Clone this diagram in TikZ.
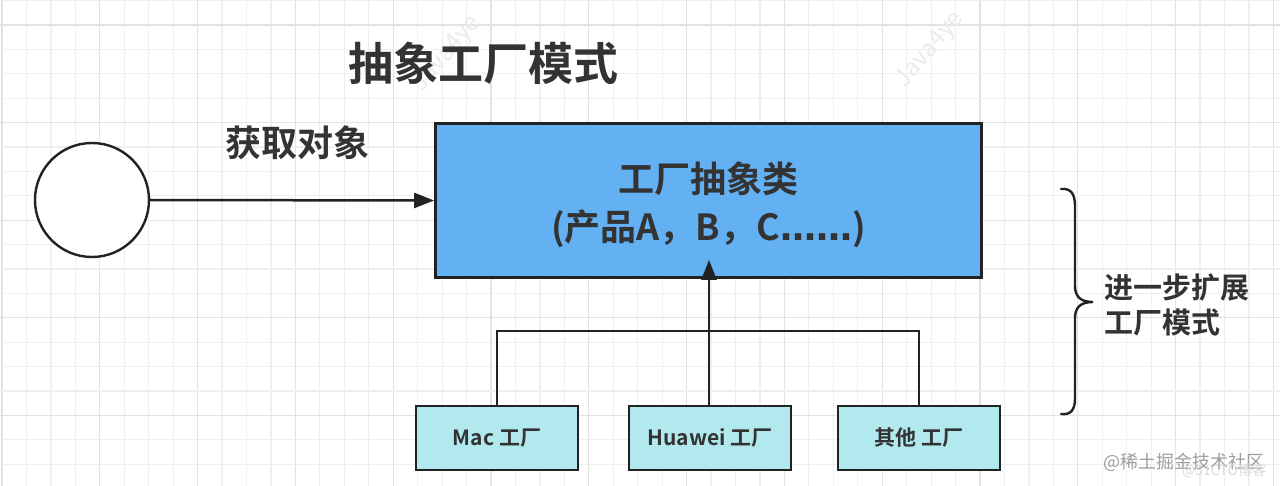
\documentclass[tikz,border=0pt]{standalone}
\usepackage{fontspec}
\setmainfont{Noto Sans CJK SC}[BoldFont={* Bold}]
\newfontfamily\latinfont{DejaVu Sans}
\usetikzlibrary{arrows.meta}
\definecolor{txt}{HTML}{333333}
\definecolor{mainfill}{RGB}{99,176,243}
\definecolor{subfill}{RGB}{178,233,238}
\definecolor{edge}{HTML}{222222}
\definecolor{gridminor}{HTML}{EFEFEF}
\definecolor{gridmajor}{HTML}{E2E2E2}
\tikzset{
  fs/.style={font=\fontsize{#1}{#1}\selectfont\bfseries},
  circ/.style={circle, draw=edge, line width=2.4pt, fill=white, minimum size=114pt, inner sep=0pt},
  mainbox/.style={rectangle, draw=edge, line width=2.8pt, fill=mainfill, minimum width=546pt, minimum height=154pt, inner sep=0pt},
  subbox/.style={rectangle, draw=edge, line width=2.8pt, fill=subfill, minimum width=162pt, minimum height=64pt, inner sep=0pt, text=txt, font=\fontsize{21}{25}\selectfont\bfseries},
  conn/.style={draw=edge, line width=2.5pt},
  arr/.style={conn, -{Triangle[length=20pt,width=15pt]}},
  label/.style={text=txt, inner sep=0pt},
  wm/.style={inner sep=0pt}
}
\begin{document}
\begin{tikzpicture}[x=1pt,y=-1pt]
\useasboundingbox (0,0) rectangle (1280,486);
\fill[white] (0,0) rectangle (1280,486);
% grid
\foreach \i in {0,...,52}{
  \pgfmathtruncatemacro{\r}{mod(\i,4)}
  \ifnum\r=0 \def\gc{gridmajor}\else\def\gc{gridminor}\fi
  \draw[\gc, line width=1.2pt] ({2+24.45*\i},0) -- ({2+24.45*\i},486);
}
\foreach \j in {0,...,20}{
  \pgfmathtruncatemacro{\r}{mod(\j,4)}
  \ifnum\r=1 \def\gc{gridmajor}\else\def\gc{gridminor}\fi
  \draw[\gc, line width=1.2pt] (0,{0.6+24.4*\j}) -- (1280,{0.6+24.4*\j});
}
% watermarks
\node[wm, text=black!8, rotate=50, font=\fontsize{24}{28}\selectfont] (wm1) at (447,54) {Java4ye};
\node[wm, text=black!8, rotate=50, font=\fontsize{24}{28}\selectfont] (wm2) at (930,50) {Java4ye};

% title and labels
\node[label, fs=45] (title) at (483,63) {抽象工厂模式};
\node[label, fs=36] (get) at (297,143) {获取对象};

% nodes
\node[circ] (client) at (92,200) {};
\node[mainbox] (abs) at (708.5,200.5) {};
\node[label, align=center] (abstext) at (708.5,205)
  {\fontsize{36}{46}\selectfont\bfseries 工厂抽象类\\[13pt]
   \fontsize{36}{46}\selectfont\bfseries (产品A，B，C{\latinfont\bfseries ……})};
\node[subbox] (mac) at (497,438) {Mac 工厂};
\node[subbox] (hw) at (710,438) {Huawei 工厂};
\node[subbox] (oth) at (919,438) {其他 工厂};

% connectors
\draw[arr] (client.east) -- (abs.west);
\coordinate (j) at (709,331);
\draw[conn] (mac.north) |- (j) -| (oth.north);
\draw[arr, shorten >=-19pt] (hw.north -| j) -- (abs.south -| j);

% brace
\draw[edge, line width=2.4pt, line cap=round]
  (1061,189) .. controls (1071,188) and (1075,194) .. (1075,206)
  -- (1075,286) .. controls (1075,296) and (1080,302) .. (1093,302)
  .. controls (1080,302) and (1075,308) .. (1075,318)
  -- (1075,398) .. controls (1075,410) and (1071,415) .. (1061,414);
\node[label, anchor=west, align=left, font=\fontsize{29}{35}\selectfont\bfseries] (ext) at (1104,305) {进一步扩展\\工厂模式};

% bottom-right watermark
\node[wm, text=black!38, anchor=west, font=\fontsize{18}{22}\selectfont] (wm3) at (1103,462) {@稀土掘金技术社区};
\node[wm, text=black!15, anchor=west, font=\fontsize{14}{16}\selectfont] (wm4) at (1182,471) {@51CTO博客};
\end{tikzpicture}
\end{document}
